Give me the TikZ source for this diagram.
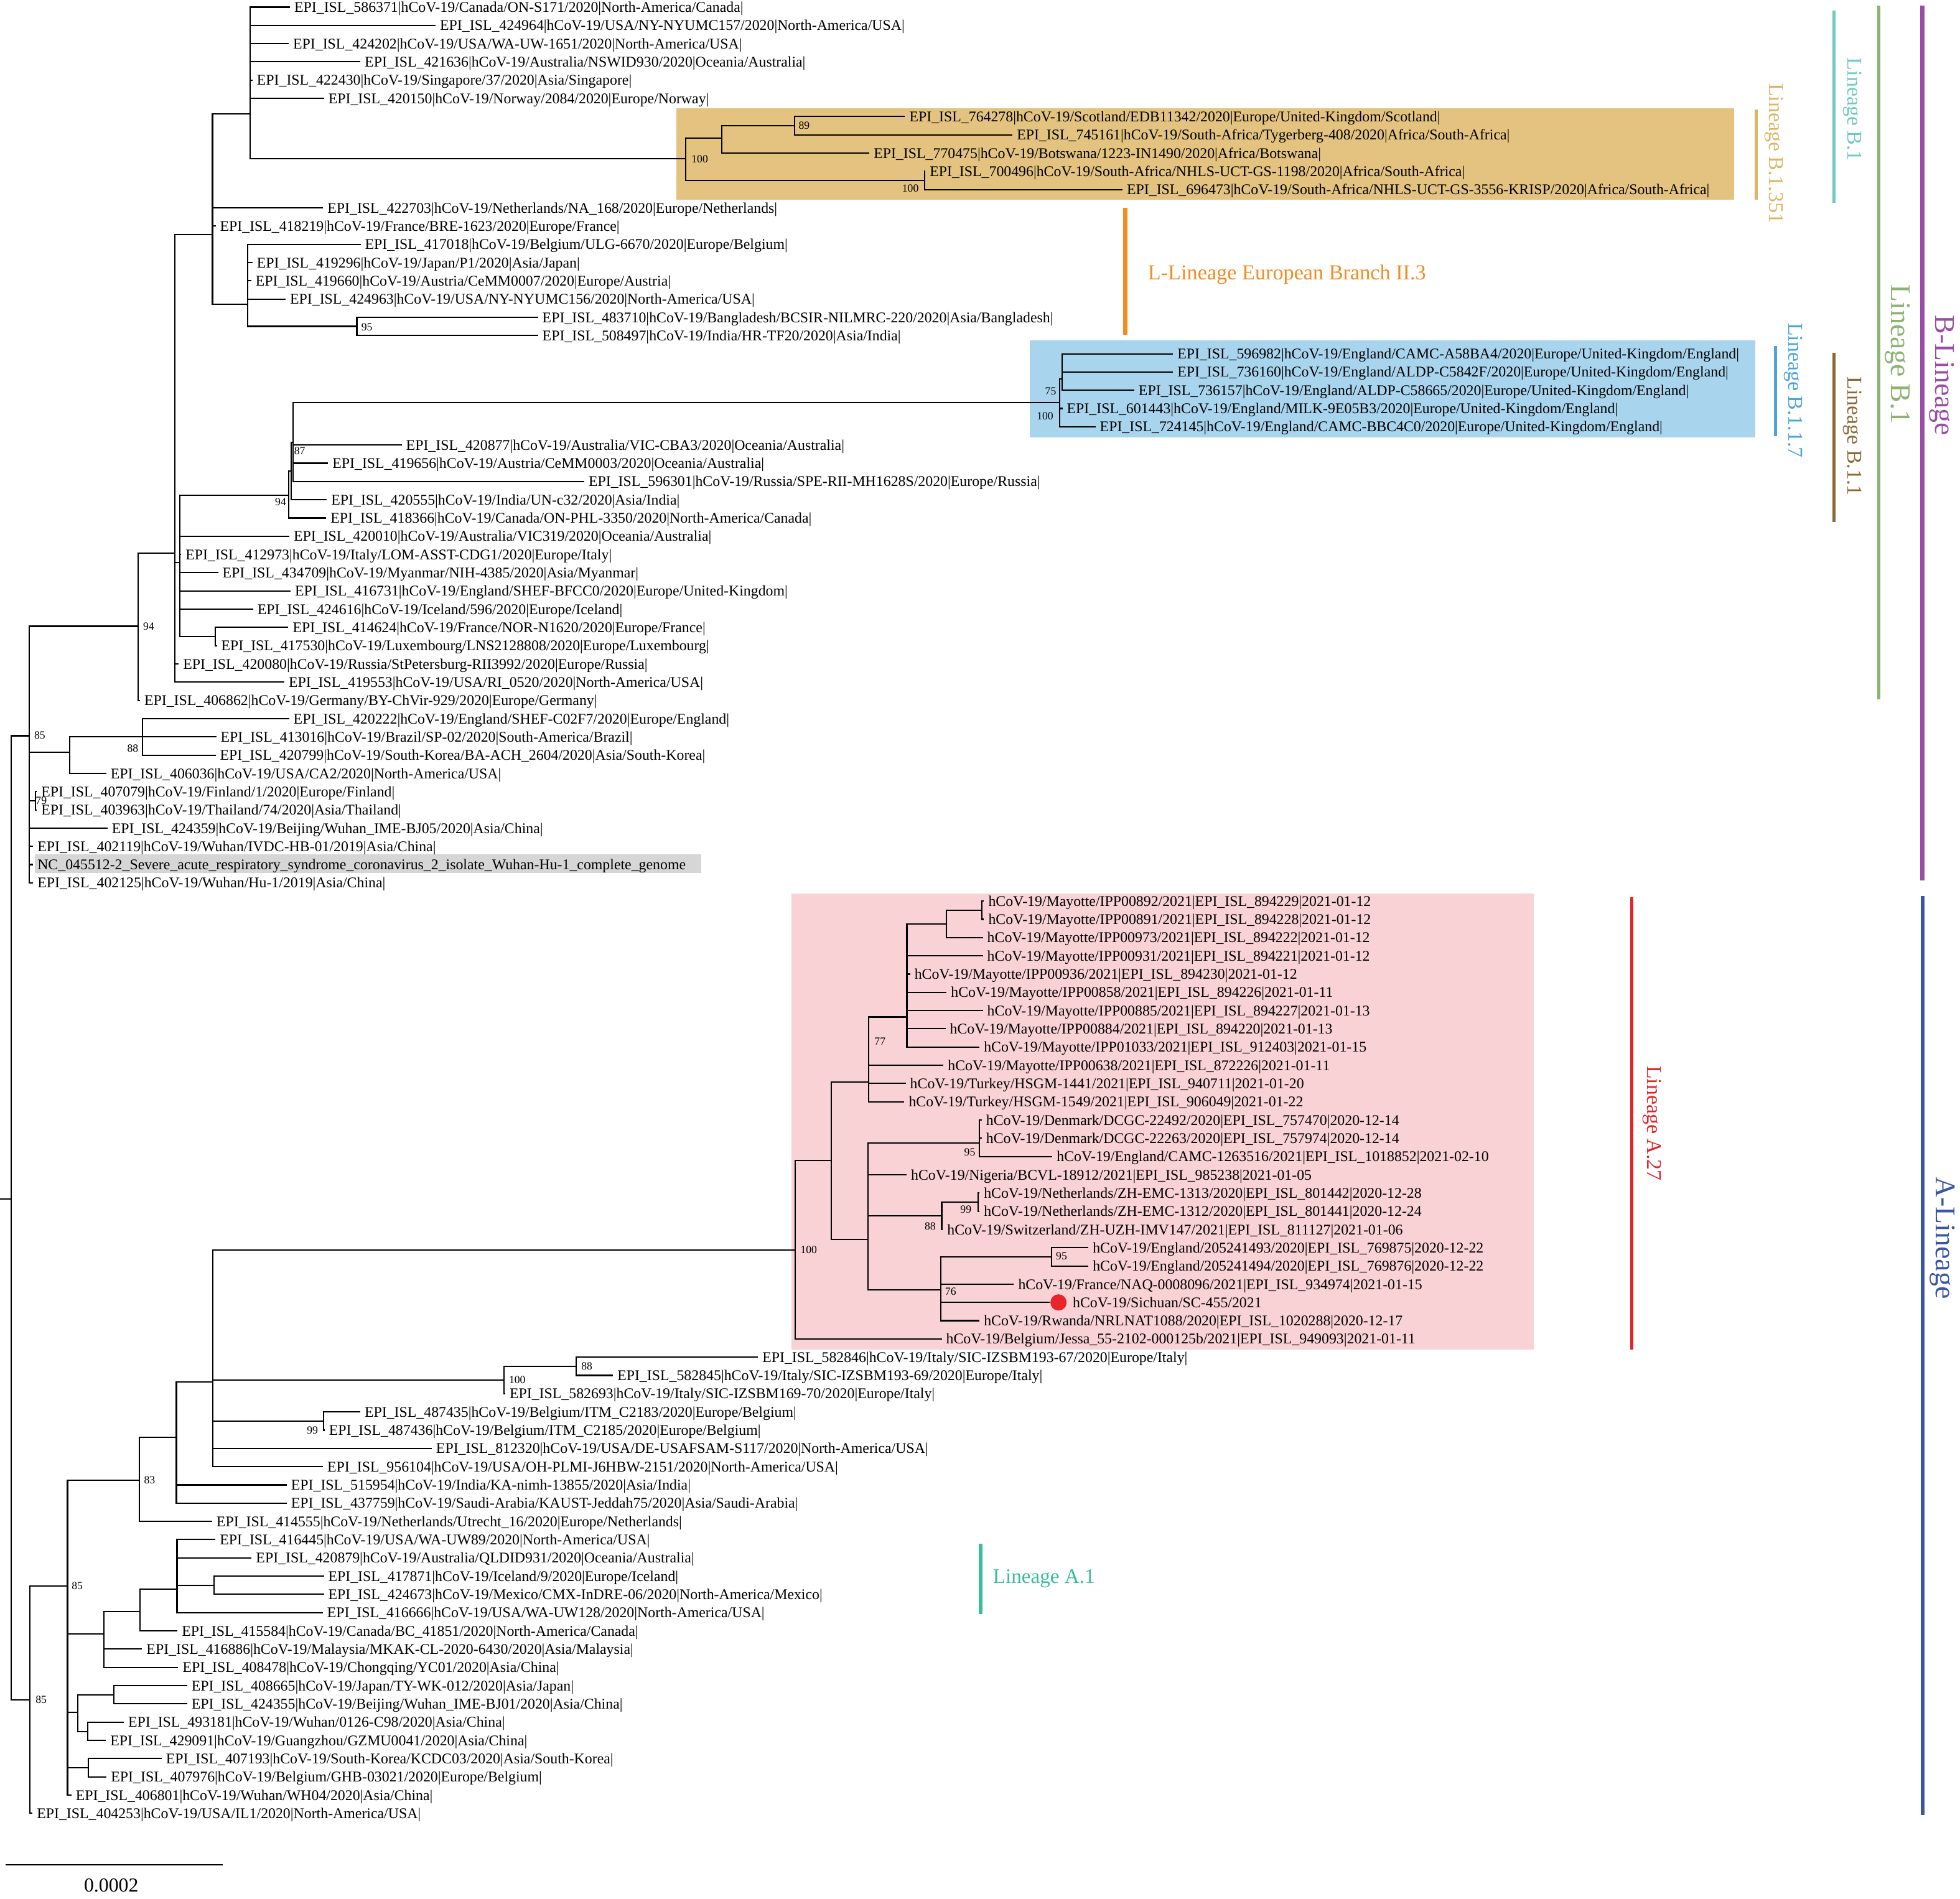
\documentclass[tikz,border=0pt]{standalone}
\usepackage{fontspec}
\setmainfont{Liberation Serif}
\usetikzlibrary{positioning}
\definecolor{BoxTan}{HTML}{E3C37F}
\definecolor{BoxSky}{HTML}{A8D4EE}
\definecolor{BoxPink}{HTML}{F9D2D5}
\definecolor{BoxGray}{HTML}{D6D6D6}
\definecolor{TagCyan}{HTML}{6FCAC2}
\definecolor{TagTan}{HTML}{DDB565}
\definecolor{TagSky}{HTML}{4AA5DB}
\definecolor{TagBrown}{HTML}{8C6934}
\definecolor{TagGreen}{HTML}{8DB373}
\definecolor{TagPurple}{HTML}{9A4DA7}
\definecolor{TagRed}{HTML}{E2252B}
\definecolor{TagNavy}{HTML}{3A56A5}
\definecolor{TagOrange}{HTML}{F28C22}
\definecolor{TagTeal}{HTML}{3BBD9B}
\definecolor{DotRed}{HTML}{E8252A}

\begin{document}
\begin{tikzpicture}[
  x=0.02cm, y=-0.02cm,
  declare function={rowy(\k)=5.7+14.595*(\k-1);},
  branch/.style={line width=0.6pt},
  leaf/.style={anchor=west, inner xsep=1.8pt, inner ysep=0pt, text height=4.6pt, text depth=0pt, font=\fontsize{6.75}{7}\selectfont},
  boot/.style={inner sep=0pt, font=\fontsize{5}{5}\selectfont},
  cladebar/.style={line width=1.45pt},
  tag/.style={rotate=-90, inner sep=0pt, font=\fontsize{9.6}{10}\selectfont},
  bigtag/.style={rotate=-90, inner sep=0pt, font=\fontsize{13}{13}\selectfont}
]
\useasboundingbox (0,0) rectangle (1568,1519);

% shaded clades
\fill[BoxTan] (541,86.5) rectangle (1387.5,160);
\fill[BoxSky] (824,272.5) rectangle (1404,350);
\fill[BoxPink] (633.4,715) rectangle (1227,1079.5);
\fill[BoxGray] (28,683.5) rectangle (561,698.5);

% tips
\node[leaf] (L1) at (232,{rowy(1)}) {EPI\_ISL\_586371|hCoV-19/Canada/ON-S171/2020|North-America/Canada|};
\node[leaf] (L2) at (348.5,{rowy(2)}) {EPI\_ISL\_424964|hCoV-19/USA/NY-NYUMC157/2020|North-America/USA|};
\node[leaf] (L3) at (231,{rowy(3)}) {EPI\_ISL\_424202|hCoV-19/USA/WA-UW-1651/2020|North-America/USA|};
\node[leaf] (L4) at (288.3,{rowy(4)}) {EPI\_ISL\_421636|hCoV-19/Australia/NSWID930/2020|Oceania/Australia|};
\node[leaf] (L5) at (202,{rowy(5)}) {EPI\_ISL\_422430|hCoV-19/Singapore/37/2020|Asia/Singapore|};
\node[leaf] (L6) at (259.2,{rowy(6)}) {EPI\_ISL\_420150|hCoV-19/Norway/2084/2020|Europe/Norway|};
\node[leaf] (L7) at (724,{rowy(7)}) {EPI\_ISL\_764278|hCoV-19/Scotland/EDB11342/2020|Europe/United-Kingdom/Scotland|};
\node[leaf] (L8) at (810,{rowy(8)}) {EPI\_ISL\_745161|hCoV-19/South-Africa/Tygerberg-408/2020|Africa/South-Africa|};
\node[leaf] (L9) at (695.5,{rowy(9)}) {EPI\_ISL\_770475|hCoV-19/Botswana/1223-IN1490/2020|Africa/Botswana|};
\node[leaf] (L10) at (740.3,{rowy(10)}) {EPI\_ISL\_700496|hCoV-19/South-Africa/NHLS-UCT-GS-1198/2020|Africa/South-Africa|};
\node[leaf] (L11) at (898,{rowy(11)}) {EPI\_ISL\_696473|hCoV-19/South-Africa/NHLS-UCT-GS-3556-KRISP/2020|Africa/South-Africa|};
\node[leaf] (L12) at (258.5,{rowy(12)}) {EPI\_ISL\_422703|hCoV-19/Netherlands/NA\_168/2020|Europe/Netherlands|};
\node[leaf] (L13) at (172.5,{rowy(13)}) {EPI\_ISL\_418219|hCoV-19/France/BRE-1623/2020|Europe/France|};
\node[leaf] (L14) at (288.5,{rowy(14)}) {EPI\_ISL\_417018|hCoV-19/Belgium/ULG-6670/2020|Europe/Belgium|};
\node[leaf] (L15) at (202,{rowy(15)}) {EPI\_ISL\_419296|hCoV-19/Japan/P1/2020|Asia/Japan|};
\node[leaf] (L16) at (201,{rowy(16)}) {EPI\_ISL\_419660|hCoV-19/Austria/CeMM0007/2020|Europe/Austria|};
\node[leaf] (L17) at (228.5,{rowy(17)}) {EPI\_ISL\_424963|hCoV-19/USA/NY-NYUMC156/2020|North-America/USA|};
\node[leaf] (L18) at (430.4,{rowy(18)}) {EPI\_ISL\_483710|hCoV-19/Bangladesh/BCSIR-NILMRC-220/2020|Asia/Bangladesh|};
\node[leaf] (L19) at (430.4,{rowy(19)}) {EPI\_ISL\_508497|hCoV-19/India/HR-TF20/2020|Asia/India|};
\node[leaf] (L20) at (938.4,{rowy(20)}) {EPI\_ISL\_596982|hCoV-19/England/CAMC-A58BA4/2020|Europe/United-Kingdom/England|};
\node[leaf] (L21) at (938.4,{rowy(21)}) {EPI\_ISL\_736160|hCoV-19/England/ALDP-C5842F/2020|Europe/United-Kingdom/England|};
\node[leaf] (L22) at (907.4,{rowy(22)}) {EPI\_ISL\_736157|hCoV-19/England/ALDP-C58665/2020|Europe/United-Kingdom/England|};
\node[leaf] (L23) at (850,{rowy(23)}) {EPI\_ISL\_601443|hCoV-19/England/MILK-9E05B3/2020|Europe/United-Kingdom/England|};
\node[leaf] (L24) at (876.4,{rowy(24)}) {EPI\_ISL\_724145|hCoV-19/England/CAMC-BBC4C0/2020|Europe/United-Kingdom/England|};
\node[leaf] (L25) at (321.4,{rowy(25)}) {EPI\_ISL\_420877|hCoV-19/Australia/VIC-CBA3/2020|Oceania/Australia|};
\node[leaf] (L26) at (262.5,{rowy(26)}) {EPI\_ISL\_419656|hCoV-19/Austria/CeMM0003/2020|Oceania/Australia|};
\node[leaf] (L27) at (467.4,{rowy(27)}) {EPI\_ISL\_596301|hCoV-19/Russia/SPE-RII-MH1628S/2020|Europe/Russia|};
\node[leaf] (L28) at (261.5,{rowy(28)}) {EPI\_ISL\_420555|hCoV-19/India/UN-c32/2020|Asia/India|};
\node[leaf] (L29) at (261,{rowy(29)}) {EPI\_ISL\_418366|hCoV-19/Canada/ON-PHL-3350/2020|North-America/Canada|};
\node[leaf] (L30) at (231.5,{rowy(30)}) {EPI\_ISL\_420010|hCoV-19/Australia/VIC319/2020|Oceania/Australia|};
\node[leaf] (L31) at (145,{rowy(31)}) {EPI\_ISL\_412973|hCoV-19/Italy/LOM-ASST-CDG1/2020|Europe/Italy|};
\node[leaf] (L32) at (174.5,{rowy(32)}) {EPI\_ISL\_434709|hCoV-19/Myanmar/NIH-4385/2020|Asia/Myanmar|};
\node[leaf] (L33) at (232.5,{rowy(33)}) {EPI\_ISL\_416731|hCoV-19/England/SHEF-BFCC0/2020|Europe/United-Kingdom|};
\node[leaf] (L34) at (202.5,{rowy(34)}) {EPI\_ISL\_424616|hCoV-19/Iceland/596/2020|Europe/Iceland|};
\node[leaf] (L35) at (230.7,{rowy(35)}) {EPI\_ISL\_414624|hCoV-19/France/NOR-N1620/2020|Europe/France|};
\node[leaf] (L36) at (173.5,{rowy(36)}) {EPI\_ISL\_417530|hCoV-19/Luxembourg/LNS2128808/2020|Europe/Luxembourg|};
\node[leaf] (L37) at (143,{rowy(37)}) {EPI\_ISL\_420080|hCoV-19/Russia/StPetersburg-RII3992/2020|Europe/Russia|};
\node[leaf] (L38) at (227.5,{rowy(38)}) {EPI\_ISL\_419553|hCoV-19/USA/RI\_0520/2020|North-America/USA|};
\node[leaf] (L39) at (112,{rowy(39)}) {EPI\_ISL\_406862|hCoV-19/Germany/BY-ChVir-929/2020|Europe/Germany|};
\node[leaf] (L40) at (231.3,{rowy(40)}) {EPI\_ISL\_420222|hCoV-19/England/SHEF-C02F7/2020|Europe/England|};
\node[leaf] (L41) at (173,{rowy(41)}) {EPI\_ISL\_413016|hCoV-19/Brazil/SP-02/2020|South-America/Brazil|};
\node[leaf] (L42) at (172.5,{rowy(42)}) {EPI\_ISL\_420799|hCoV-19/South-Korea/BA-ACH\_2604/2020|Asia/South-Korea|};
\node[leaf] (L43) at (85,{rowy(43)}) {EPI\_ISL\_406036|hCoV-19/USA/CA2/2020|North-America/USA|};
\node[leaf] (L44) at (29.5,{rowy(44)}) {EPI\_ISL\_407079|hCoV-19/Finland/1/2020|Europe/Finland|};
\node[leaf] (L45) at (29.5,{rowy(45)}) {EPI\_ISL\_403963|hCoV-19/Thailand/74/2020|Asia/Thailand|};
\node[leaf] (L46) at (86,{rowy(46)}) {EPI\_ISL\_424359|hCoV-19/Beijing/Wuhan\_IME-BJ05/2020|Asia/China|};
\node[leaf] (L47) at (26.5,{rowy(47)}) {EPI\_ISL\_402119|hCoV-19/Wuhan/IVDC-HB-01/2019|Asia/China|};
\node[leaf] (L48) at (26.5,{rowy(48)}) {NC\_045512-2\_Severe\_acute\_respiratory\_syndrome\_coronavirus\_2\_isolate\_Wuhan-Hu-1\_complete\_genome};
\node[leaf] (L49) at (26.5,{rowy(49)}) {EPI\_ISL\_402125|hCoV-19/Wuhan/Hu-1/2019|Asia/China|};
\node[leaf] (L50) at (787.2,{rowy(50)}) {hCoV-19/Mayotte/IPP00892/2021|EPI\_ISL\_894229|2021-01-12};
\node[leaf] (L51) at (787.2,{rowy(51)}) {hCoV-19/Mayotte/IPP00891/2021|EPI\_ISL\_894228|2021-01-12};
\node[leaf] (L52) at (786.3,{rowy(52)}) {hCoV-19/Mayotte/IPP00973/2021|EPI\_ISL\_894222|2021-01-12};
\node[leaf] (L53) at (786.3,{rowy(53)}) {hCoV-19/Mayotte/IPP00931/2021|EPI\_ISL\_894221|2021-01-12};
\node[leaf] (L54) at (728.1,{rowy(54)}) {hCoV-19/Mayotte/IPP00936/2021|EPI\_ISL\_894230|2021-01-12};
\node[leaf] (L55) at (757.3,{rowy(55)}) {hCoV-19/Mayotte/IPP00858/2021|EPI\_ISL\_894226|2021-01-11};
\node[leaf] (L56) at (786.3,{rowy(56)}) {hCoV-19/Mayotte/IPP00885/2021|EPI\_ISL\_894227|2021-01-13};
\node[leaf] (L57) at (756.4,{rowy(57)}) {hCoV-19/Mayotte/IPP00884/2021|EPI\_ISL\_894220|2021-01-13};
\node[leaf] (L58) at (783.6,{rowy(58)}) {hCoV-19/Mayotte/IPP01033/2021|EPI\_ISL\_912403|2021-01-15};
\node[leaf] (L59) at (754.8,{rowy(59)}) {hCoV-19/Mayotte/IPP00638/2021|EPI\_ISL\_872226|2021-01-11};
\node[leaf] (L60) at (724.6,{rowy(60)}) {hCoV-19/Turkey/HSGM-1441/2021|EPI\_ISL\_940711|2021-01-20};
\node[leaf] (L61) at (723.5,{rowy(61)}) {hCoV-19/Turkey/HSGM-1549/2021|EPI\_ISL\_906049|2021-01-22};
\node[leaf] (L62) at (785.4,{rowy(62)}) {hCoV-19/Denmark/DCGC-22492/2020|EPI\_ISL\_757470|2020-12-14};
\node[leaf] (L63) at (785.4,{rowy(63)}) {hCoV-19/Denmark/DCGC-22263/2020|EPI\_ISL\_757974|2020-12-14};
\node[leaf] (L64) at (841.9,{rowy(64)}) {hCoV-19/England/CAMC-1263516/2021|EPI\_ISL\_1018852|2021-02-10};
\node[leaf] (L65) at (725.3,{rowy(65)}) {hCoV-19/Nigeria/BCVL-18912/2021|EPI\_ISL\_985238|2021-01-05};
\node[leaf] (L66) at (783.6,{rowy(66)}) {hCoV-19/Netherlands/ZH-EMC-1313/2020|EPI\_ISL\_801442|2020-12-28};
\node[leaf] (L67) at (783.6,{rowy(67)}) {hCoV-19/Netherlands/ZH-EMC-1312/2020|EPI\_ISL\_801441|2020-12-24};
\node[leaf] (L68) at (754.3,{rowy(68)}) {hCoV-19/Switzerland/ZH-UZH-IMV147/2021|EPI\_ISL\_811127|2021-01-06};
\node[leaf] (L69) at (870.7,{rowy(69)}) {hCoV-19/England/205241493/2020|EPI\_ISL\_769875|2020-12-22};
\node[leaf] (L70) at (870.7,{rowy(70)}) {hCoV-19/England/205241494/2020|EPI\_ISL\_769876|2020-12-22};
\node[leaf] (L71) at (811.1,{rowy(71)}) {hCoV-19/France/NAQ-0008096/2021|EPI\_ISL\_934974|2021-01-15};
\node[circle, fill=DotRed, inner sep=0pt, minimum size=0.26cm] (dot72) at (846.8,{rowy(72)}) {};
\node[leaf] (L72) at (854.7,{rowy(72)}) {hCoV-19/Sichuan/SC-455/2021};
\node[leaf] (L73) at (783.6,{rowy(73)}) {hCoV-19/Rwanda/NRLNAT1088/2020|EPI\_ISL\_1020288|2020-12-17};
\node[leaf] (L74) at (753.4,{rowy(74)}) {hCoV-19/Belgium/Jessa\_55-2102-000125b/2021|EPI\_ISL\_949093|2021-01-11};
\node[leaf] (L75) at (606.4,{rowy(75)}) {EPI\_ISL\_582846|hCoV-19/Italy/SIC-IZSBM193-67/2020|Europe/Italy|};
\node[leaf] (L76) at (490.4,{rowy(76)}) {EPI\_ISL\_582845|hCoV-19/Italy/SIC-IZSBM193-69/2020|Europe/Italy|};
\node[leaf] (L77) at (404.2,{rowy(77)}) {EPI\_ISL\_582693|hCoV-19/Italy/SIC-IZSBM169-70/2020|Europe/Italy|};
\node[leaf] (L78) at (288.2,{rowy(78)}) {EPI\_ISL\_487435|hCoV-19/Belgium/ITM\_C2183/2020|Europe/Belgium|};
\node[leaf] (L79) at (259.7,{rowy(79)}) {EPI\_ISL\_487436|hCoV-19/Belgium/ITM\_C2185/2020|Europe/Belgium|};
\node[leaf] (L80) at (345.4,{rowy(80)}) {EPI\_ISL\_812320|hCoV-19/USA/DE-USAFSAM-S117/2020|North-America/USA|};
\node[leaf] (L81) at (258.4,{rowy(81)}) {EPI\_ISL\_956104|hCoV-19/USA/OH-PLMI-J6HBW-2151/2020|North-America/USA|};
\node[leaf] (L82) at (229.4,{rowy(82)}) {EPI\_ISL\_515954|hCoV-19/India/KA-nimh-13855/2020|Asia/India|};
\node[leaf] (L83) at (229.4,{rowy(83)}) {EPI\_ISL\_437759|hCoV-19/Saudi-Arabia/KAUST-Jeddah75/2020|Asia/Saudi-Arabia|};
\node[leaf] (L84) at (169.7,{rowy(84)}) {EPI\_ISL\_414555|hCoV-19/Netherlands/Utrecht\_16/2020|Europe/Netherlands|};
\node[leaf] (L85) at (172.4,{rowy(85)}) {EPI\_ISL\_416445|hCoV-19/USA/WA-UW89/2020|North-America/USA|};
\node[leaf] (L86) at (201.3,{rowy(86)}) {EPI\_ISL\_420879|hCoV-19/Australia/QLDID931/2020|Oceania/Australia|};
\node[leaf] (L87) at (259.1,{rowy(87)}) {EPI\_ISL\_417871|hCoV-19/Iceland/9/2020|Europe/Iceland|};
\node[leaf] (L88) at (259.1,{rowy(88)}) {EPI\_ISL\_424673|hCoV-19/Mexico/CMX-InDRE-06/2020|North-America/Mexico|};
\node[leaf] (L89) at (258.2,{rowy(89)}) {EPI\_ISL\_416666|hCoV-19/USA/WA-UW128/2020|North-America/USA|};
\node[leaf] (L90) at (142,{rowy(90)}) {EPI\_ISL\_415584|hCoV-19/Canada/BC\_41851/2020|North-America/Canada|};
\node[leaf] (L91) at (113.7,{rowy(91)}) {EPI\_ISL\_416886|hCoV-19/Malaysia/MKAK-CL-2020-6430/2020|Asia/Malaysia|};
\node[leaf] (L92) at (142.6,{rowy(92)}) {EPI\_ISL\_408478|hCoV-19/Chongqing/YC01/2020|Asia/China|};
\node[leaf] (L93) at (149.7,{rowy(93)}) {EPI\_ISL\_408665|hCoV-19/Japan/TY-WK-012/2020|Asia/Japan|};
\node[leaf] (L94) at (149.7,{rowy(94)}) {EPI\_ISL\_424355|hCoV-19/Beijing/Wuhan\_IME-BJ01/2020|Asia/China|};
\node[leaf] (L95) at (99.1,{rowy(95)}) {EPI\_ISL\_493181|hCoV-19/Wuhan/0126-C98/2020|Asia/China|};
\node[leaf] (L96) at (84.8,{rowy(96)}) {EPI\_ISL\_429091|hCoV-19/Guangzhou/GZMU0041/2020|Asia/China|};
\node[leaf] (L97) at (129.3,{rowy(97)}) {EPI\_ISL\_407193|hCoV-19/South-Korea/KCDC03/2020|Asia/South-Korea|};
\node[leaf] (L98) at (85.3,{rowy(98)}) {EPI\_ISL\_407976|hCoV-19/Belgium/GHB-03021/2020|Europe/Belgium|};
\node[leaf] (L99) at (57.1,{rowy(99)}) {EPI\_ISL\_406801|hCoV-19/Wuhan/WH04/2020|Asia/China|};
\node[leaf] (L100) at (26,{rowy(100)}) {EPI\_ISL\_404253|hCoV-19/USA/IL1/2020|North-America/USA|};

% inner nodes
\coordinate (stem) at (0,959);
\coordinate (root) at (9.1,959);
\coordinate (nB85) at (23.2,588.6);
\coordinate (n94B) at (110.6,501);
\coordinate (n140) at (140,442.6);
\coordinate (n170) at (170,187.5);
\coordinate (nTop) at (200,91);
\coordinate (n351) at (548.5,127);
\coordinate (nS1) at (577.6,110.5);
\coordinate (n89) at (635.6,100.6);
\coordinate (nS2) at (739.6,144.4);
\coordinate (nLow) at (198,243.2);
\coordinate (n95a) at (285.5,261.1);
\coordinate (n144) at (144,450);
\coordinate (n94i) at (231,396.3);
\coordinate (nX) at (232.8,377);
\coordinate (n87) at (234.3,354);
\coordinate (nB117) at (847.5,322);
\coordinate (n75) at (849.5,303);
\coordinate (n172) at (172.3,509.3);
\coordinate (n55) at (55.6,602);
\coordinate (n88) at (113.8,589.5);
\coordinate (n79) at (28.3,640.6);
\coordinate (nA85) at (24,1360);
\coordinate (nA85b) at (54,1268.6);
\coordinate (n83) at (111.4,1184);
\coordinate (n141) at (141.1,1150);
\coordinate (n170A) at (170.4,1105.7);
\coordinate (n100I) at (403.2,1104);
\coordinate (n88I) at (461,1093.1);
\coordinate (n99B) at (258.8,1136.9);
\coordinate (n833) at (83.3,1307.3);
\coordinate (n112) at (112.2,1289);
\coordinate (n1416) at (141.6,1271.4);
\coordinate (n171) at (171.1,1268.3);
\coordinate (n62) at (62.2,1370);
\coordinate (n91) at (91.1,1355.9);
\coordinate (n70) at (70,1385.1);
\coordinate (n70b) at (70.7,1414.3);
\coordinate (nA27) at (636.1,1000);
\coordinate (n665) at (665.1,928.5);
\coordinate (n77) at (694.8,865.6);
\coordinate (nM) at (725.5,813.6);
\coordinate (n757) at (757.3,739.2);
\coordinate (n785) at (785.4,728.2);
\coordinate (nLo) at (694.4,991.5);
\coordinate (n95A) at (783.6,914.5);
\coordinate (n88A) at (753.4,972.8);
\coordinate (n99A) at (782.7,961.8);
\coordinate (n76) at (752.5,1032);
\coordinate (n95B) at (841.4,1005.6);

% branches, B side
\draw[branch] (stem) -- (root) (root) |- (nB85) (root) |- (nA85);
\draw[branch] (nB85) |- (n94B) (nB85) |- (n55) (nB85) |- (n79) (nB85) |- (L46.west) (nB85) |- (L47.west) (nB85) |- (L48.west) (nB85) |- (L49.west);
\draw[branch] (n94B) |- (n140) (n94B) |- (L39.west);
\draw[branch] (n140) |- (n170) (n140) |- (n144) (n140) |- (L37.west) (n140) |- (L38.west);
\draw[branch] (n170) |- (nTop) (n170) |- (L12.west) (n170) |- (L13.west) (n170) |- (nLow);
\draw[branch] (nTop) |- (L1.west) (nTop) |- (L2.west) (nTop) |- (L3.west) (nTop) |- (L4.west) (nTop) |- (L5.west) (nTop) |- (L6.west) (nTop) |- (n351);
\draw[branch] (n351) |- (nS1) (n351) |- (nS2);
\draw[branch] (nS1) |- (n89) (nS1) |- (L9.west);
\draw[branch] (n89) |- (L7.west) (n89) |- (L8.west);
\draw[branch] (nS2) |- (L10.west) (nS2) |- (L11.west);
\draw[branch] (nLow) |- (L14.west) (nLow) |- (L15.west) (nLow) |- (L16.west) (nLow) |- (L17.west) (nLow) |- (n95a);
\draw[branch] (n95a) |- (L18.west) (n95a) |- (L19.west);
\draw[branch] (n144) |- (n94i) (n144) |- (L30.west) (n144) |- (L31.west) (n144) |- (L32.west) (n144) |- (L33.west) (n144) |- (L34.west) (n144) |- (n172);
\draw[branch] (n94i) |- (nX) (n94i) |- (L29.west);
\draw[branch] (nX) |- (n87) (nX) |- (L28.west);
\draw[branch] (n87) |- (nB117) (n87) |- (L25.west) (n87) |- (L26.west) (n87) |- (L27.west);
\draw[branch] (nB117) |- (n75) (nB117) |- (L23.west) (nB117) |- (L24.west);
\draw[branch] (n75) |- (L20.west) (n75) |- (L21.west) (n75) |- (L22.west);
\draw[branch] (n172) |- (L35.west) (n172) |- (L36.west);
\draw[branch] (n55) |- (n88) (n55) |- (L43.west);
\draw[branch] (n88) |- (L40.west) (n88) |- (L41.west) (n88) |- (L42.west);
\draw[branch] (n79) |- (L44.west) (n79) |- (L45.west);

% branches, A side
\draw[branch] (nA85) |- (nA85b) (nA85) |- (L100.west);
\draw[branch] (nA85b) |- (n83) (nA85b) |- (n833) (nA85b) |- (n62) (nA85b) |- (n70b) (nA85b) |- (L99.west);
\draw[branch] (n83) |- (n141) (n83) |- (L84.west);
\draw[branch] (n141) |- (n170A) (n141) |- (L82.west) (n141) |- (L83.west);
\draw[branch] (n170A) |- (nA27) (n170A) |- (n100I) (n170A) |- (n99B) (n170A) |- (L80.west) (n170A) |- (L81.west);
\draw[branch] (n100I) |- (n88I) (n100I) |- (L77.west);
\draw[branch] (n88I) |- (L75.west) (n88I) |- (L76.west);
\draw[branch] (n99B) |- (L78.west) (n99B) |- (L79.west);
\draw[branch] (n833) |- (n112) (n833) |- (L91.west) (n833) |- (L92.west);
\draw[branch] (n112) |- (n1416) (n112) |- (L90.west);
\draw[branch] (n1416) |- (L85.west) (n1416) |- (L86.west) (n1416) |- (n171) (n1416) |- (L89.west);
\draw[branch] (n171) |- (L87.west) (n171) |- (L88.west);
\draw[branch] (n62) |- (n91) (n62) |- (n70);
\draw[branch] (n91) |- (L93.west) (n91) |- (L94.west);
\draw[branch] (n70) |- (L95.west) (n70) |- (L96.west);
\draw[branch] (n70b) |- (L97.west) (n70b) |- (L98.west);
\draw[branch] (nA27) |- (n665) (nA27) |- (L74.west);
\draw[branch] (n665) |- (n77) (n665) |- (nLo);
\draw[branch] (n77) |- (nM) (n77) |- (L59.west) (n77) |- (L60.west) (n77) |- (L61.west);
\draw[branch] (nM) |- (n757) (nM) |- (L53.west) (nM) |- (L54.west) (nM) |- (L55.west) (nM) |- (L56.west) (nM) |- (L57.west) (nM) |- (L58.west);
\draw[branch] (n757) |- (n785) (n757) |- (L52.west);
\draw[branch] (n785) |- (L50.west) (n785) |- (L51.west);
\draw[branch] (nLo) |- (n95A) (nLo) |- (L65.west) (nLo) |- (n88A) (nLo) |- (n76);
\draw[branch] (n95A) |- (L62.west) (n95A) |- (L63.west) (n95A) |- (L64.west);
\draw[branch] (n88A) |- (n99A) (n88A) |- (L68.west);
\draw[branch] (n99A) |- (L66.west) (n99A) |- (L67.west);
\draw[branch] (n76) |- (n95B) (n76) |- (L71.west) (n76) |- (dot72.west) (n76) |- (L73.west);
\draw[branch] (n95B) |- (L69.west) (n95B) |- (L70.west);

% bootstrap values
\node[boot] (s1) at (643.3,100.6) {89};
\node[boot] (s2) at (559.8,127.5) {100};
\node[boot] (s3) at (728.3,150.6) {100};
\node[boot] (s4) at (293.5,261.5) {95};
\node[boot] (s5) at (239.8,360.5) {87};
\node[boot] (s6) at (224.5,401.8) {94};
\node[boot] (s7) at (119,501) {94};
\node[boot] (s8) at (840.5,313) {75};
\node[boot] (s9) at (836,333) {100};
\node[boot] (s10) at (31.8,588.2) {85};
\node[boot] (s11) at (106.2,598.9) {88};
\node[boot] (s12) at (33,640.4) {79};
\node[boot] (s13) at (704,833.1) {77};
\node[boot] (s14) at (775.8,921.8) {95};
\node[boot] (s15) at (772.7,967.5) {99};
\node[boot] (s16) at (744.1,980.9) {88};
\node[boot] (s17) at (849.2,1005.1) {95};
\node[boot] (s18) at (760.5,1033.1) {76};
\node[boot] (s19) at (647,1000.1) {100};
\node[boot] (s20) at (469.5,1093.2) {88};
\node[boot] (s21) at (413.8,1103.9) {100};
\node[boot] (s22) at (250,1144.4) {99};
\node[boot] (s23) at (119.7,1183.9) {83};
\node[boot] (s24) at (61.8,1268.6) {85};
\node[boot] (s25) at (32.9,1359.9) {85};

% lineage bars
\draw[cladebar, TagCyan] (1467,8.3) -- (1467,162.5);
\node[tag, TagCyan] (tB1a) at (1482,87.5) {Lineage B.1};
\draw[cladebar, TagTan] (1405,87.5) -- (1405,160);
\node[tag, TagTan] (tB1351) at (1419,122.7) {Lineage B.1.351};
\draw[cladebar, TagSky] (1420.3,277) -- (1420.3,349);
\node[tag, TagSky] (tB117) at (1434.7,312.3) {Lineage B.1.1.7};
\draw[cladebar, TagBrown] (1467.2,282) -- (1467.2,417.5);
\node[tag, TagBrown] (tB11) at (1482,349) {Lineage B.1.1};
\draw[cladebar, TagGreen] (1503,4.6) -- (1503,559.3);
\node[bigtag, TagGreen] (tB1b) at (1518,283.6) {Lineage B.1};
\draw[cladebar, line width=1.9pt, TagPurple] (1537.7,4.6) -- (1537.7,704.3);
\node[bigtag, TagPurple] (tB) at (1553.6,300.3) {B-Lineage};
\draw[cladebar, TagRed] (1305.4,717.7) -- (1305.4,1079.7);
\node[tag, TagRed] (tA27) at (1321.8,898.7) {Lineage A.27};
\draw[cladebar, TagNavy] (1538.1,716.7) -- (1538.1,1452);
\node[bigtag, TagNavy] (tA) at (1553.8,990.3) {A-Lineage};
\draw[cladebar, line width=2pt, TagOrange] (900,166) -- (900,268);
\node[anchor=west, inner sep=0pt, TagOrange, font=\fontsize{9.7}{10}\selectfont] (tL) at (918,219.9) {L-Lineage European Branch II.3};
\draw[cladebar, line width=1.7pt, TagTeal] (784.5,1235) -- (784.5,1291);
\node[anchor=west, inner sep=0pt, TagTeal, font=\fontsize{9.4}{10}\selectfont] (tA1) at (794,1263) {Lineage A.1};

% scale
\coordinate (sbL) at (4.6,1492);
\coordinate (sbR) at (178.4,1492);
\draw[line width=0.6pt] (sbL) -- (sbR);
\node[inner sep=0pt, font=\fontsize{9}{9}\selectfont] (sbT) at (89,1508.5) {0.0002};
\end{tikzpicture}
\end{document}
